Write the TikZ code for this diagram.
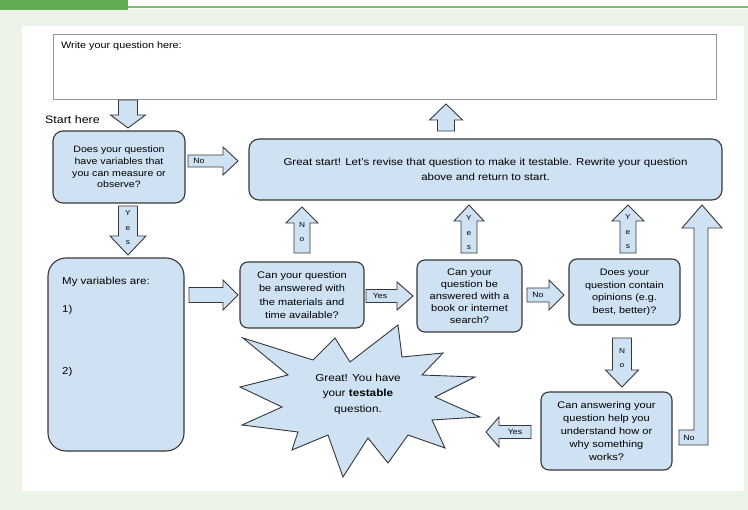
\documentclass[tikz,border=0pt]{standalone}
\usepackage{fontspec}
\setmainfont[FakeStretch=1.15]{Liberation Sans}
\usepackage{xcolor}
\usepackage{tikz}
\usetikzlibrary{positioning,calc}
\definecolor{boxFill}{RGB}{207,226,243}
\definecolor{boxLine}{RGB}{55,55,55}
\definecolor{panelGreen}{RGB}{236,244,233}
\definecolor{barGreen}{RGB}{98,172,84}
\definecolor{lineGreen}{RGB}{122,190,104}
\definecolor{qLine}{RGB}{150,150,150}
\tikzset{
    flowbox/.style={
        draw=boxLine,
        fill=boxFill,
        line width=1.1pt,
        rounded corners=8pt,
        align=center,
        inner sep=0pt,
        font=\fontsize{9.6}{12.5}\selectfont
    },
    qbox/.style={
        draw=qLine,
        fill=white,
        line width=0.8pt,
        inner sep=0pt
    },
    arrshaft/.store in=\arrshaft,
    arrhead/.store in=\arrhead,
    arrlen/.store in=\arrlen,
    arrshaft=7pt, arrhead=15pt, arrlen=15pt,
    barrow/.style={
        draw=boxLine,
        fill=boxFill,
        line width=0.9pt,
        to path={
            ($(\tikztostart)!\arrshaft!90:(\tikztotarget)$)
            -- ($($(\tikztotarget)!\arrlen!(\tikztostart)$)!\arrshaft!90:(\tikztotarget)$)
            -- ($($(\tikztotarget)!\arrlen!(\tikztostart)$)!\arrhead!90:(\tikztotarget)$)
            -- (\tikztotarget)
            -- ($($(\tikztotarget)!\arrlen!(\tikztostart)$)!\arrhead!-90:(\tikztotarget)$)
            -- ($($(\tikztotarget)!\arrlen!(\tikztostart)$)!\arrshaft!-90:(\tikztotarget)$)
            -- ($(\tikztostart)!\arrshaft!-90:(\tikztotarget)$)
            -- cycle
        }
    },
    albl/.style={font=\fontsize{7.6}{8}\selectfont, inner sep=0pt},
    vlbl/.style={font=\fontsize{7.2}{14.5}\selectfont, align=center, inner sep=0pt}
}

\begin{document}
\begin{tikzpicture}[x=1pt, y=-1pt]
    \useasboundingbox (0,0) rectangle (748,510);
    \fill[panelGreen] (0,9) rectangle (748,510);
    \fill[white] (22,26) rectangle (744,491);
    \fill[barGreen] (0,0) rectangle (128,10);
    \draw[lineGreen, line width=1.5pt] (128,7) -- (748,7);

    \node[qbox, minimum width=663pt, minimum height=65pt] (qbox) at (384.5,66.5) {};
    \node[anchor=west, inner sep=0pt, font=\fontsize{9.4}{11}\selectfont] (qtext) at (61,46.5) {Write your question here:};
    \node[anchor=west, inner sep=0pt, font=\fontsize{10.8}{12}\selectfont] (start) at (45,120) {Start here};

    \node[flowbox, minimum width=132pt, minimum height=72pt, rounded corners=10pt,
        font=\fontsize{9.2}{11.7}\selectfont] (q1) at (119,167)
        {Does your question\\have variables that\\you can measure or\\observe?};
    \node[flowbox, minimum width=473pt, minimum height=61pt, rounded corners=10pt,
        font=\fontsize{10}{14.5}\selectfont] (gs) at (485.5,169.5)
        {Great start! Let's revise that question to make it testable. Rewrite your question\\above and return to start.};
    \node[flowbox, minimum width=136pt, minimum height=193pt, rounded corners=18pt] (vars) at (116,354.5) {};
    \node[anchor=west, inner sep=0pt, font=\fontsize{10}{12}\selectfont] (vtitle) at (62,282) {My variables are:};
    \node[anchor=west, inner sep=0pt, font=\fontsize{10}{12}\selectfont] (v1) at (62,310) {1)};
    \node[anchor=west, inner sep=0pt, font=\fontsize{10}{12}\selectfont] (v2) at (62,372) {2)};
    \node[flowbox, minimum width=124pt, minimum height=66pt, font=\fontsize{9.6}{13.3}\selectfont] (mat) at (302,295)
        {Can your question\\be answered with\\the materials and\\time available?};
    \node[flowbox, minimum width=105pt, minimum height=72pt, font=\fontsize{9.6}{11.9}\selectfont] (book) at (469.5,296)
        {Can your\\question be\\answered with a\\book or internet\\search?};
    \node[flowbox, minimum width=111pt, minimum height=66pt, font=\fontsize{9.4}{12.5}\selectfont] (opin) at (624.5,292)
        {Does your\\question contain\\opinions (e.g.\\best, better)?};
    \node[flowbox, minimum width=131pt, minimum height=78pt, font=\fontsize{9.6}{13}\selectfont] (help) at (606.5,431)
        {Can answering your\\question help you\\understand how or\\why something\\works?};

    \coordinate (starC) at (360,400);
    \draw[draw=boxLine, fill=boxFill, line width=0.9pt, shift={(starC)}]
        (-117,-62) -- (-47,-40) -- (-25,-62) -- (-10,-38) -- (38,-75) -- (42,-43)
        -- (83,-47) -- (62,-25) -- (115,-23) -- (75,-3) -- (120,17) -- (72,20)
        -- (85,48) -- (48,35) -- (28,63) -- (8,38) -- (-17,77) -- (-32,35)
        -- (-68,50) -- (-62,32) -- (-118,25) -- (-78,7) -- (-120,-13) -- (-72,-25) -- cycle;
    \node[align=center, inner sep=0pt, font=\fontsize{10.2}{15.5}\selectfont] (great) at (358,394)
        {Great! You have\\your \textbf{testable}\\question.};

    \coordinate (a1) at (128,100);  \coordinate (b1) at (128,128);
    \coordinate (a2) at (188,161);  \coordinate (b2) at (238,161);
    \coordinate (a3) at (446,131);  \coordinate (b3) at (446,104);
    \coordinate (a4) at (128,206);  \coordinate (b4) at (128,255);
    \coordinate (a5) at (189,295);  \coordinate (b5) at (238,295);
    \coordinate (a6) at (302,253);  \coordinate (b6) at (302,207);
    \coordinate (a7) at (366,296);  \coordinate (b7) at (413,296);
    \coordinate (a8) at (469,253);  \coordinate (b8) at (469,205);
    \coordinate (a9) at (527,295);  \coordinate (b9) at (564,295);
    \coordinate (a10) at (628,253); \coordinate (b10) at (628,205);
    \coordinate (a11) at (622,338); \coordinate (b11) at (622,387);
    \coordinate (a12) at (531,432); \coordinate (b12) at (486,432);
    \coordinate (a13) at (679,430);

    \draw[barrow, arrshaft=9.5pt, arrhead=17.5pt, arrlen=13pt] (a1) to (b1);
    \draw[barrow, arrshaft=6pt, arrhead=14pt, arrlen=15pt] (a2) to (b2);
    \draw[barrow, arrshaft=8.5pt, arrhead=16.5pt, arrlen=16pt] (a3) to (b3);
    \draw[barrow, arrshaft=9.5pt, arrhead=18pt, arrlen=19pt] (a4) to (b4);
    \draw[barrow, arrshaft=7.5pt, arrhead=15pt, arrlen=15pt] (a5) to (b5);
    \draw[barrow, arrshaft=8pt, arrhead=16pt, arrlen=16pt] (a6) to (b6);
    \draw[barrow, arrshaft=6.5pt, arrhead=14pt, arrlen=16pt] (a7) to (b7);
    \draw[barrow, arrshaft=8pt, arrhead=15pt, arrlen=16pt] (a8) to (b8);
    \draw[barrow, arrshaft=7pt, arrhead=15pt, arrlen=15pt] (a9) to (b9);
    \draw[barrow, arrshaft=8pt, arrhead=16pt, arrlen=16pt] (a10) to (b10);
    \draw[barrow, arrshaft=9.5pt, arrhead=16.5pt, arrlen=17pt] (a11) to (b11);
    \draw[barrow, arrshaft=6.5pt, arrhead=15pt, arrlen=13pt] (a12) to (b12);
    \draw[draw=boxLine, fill=boxFill, line width=0.9pt]
        (a13) -- ++(15,0) -- ++(0,-202) -- ++(-12,0) -- ++(20,-23) -- ++(20,23)
        -- ++(-14,0) -- ++(0,217) -- ++(-29,0) -- cycle;

    \node[albl] (l2) at ($(a2)+(11,0)$) {No};
    \node[albl] (l7) at ($(a7)+(14,0)$) {Yes};
    \node[albl] (l9) at ($(a9)+(11,0)$) {No};
    \node[albl] (l12) at ($(a12)+(-16,0)$) {Yes};
    \node[albl] (l13) at ($(a13)+(10,8)$) {No};
    \node[vlbl] (l4) at ($(a4)+(0,22)$) {Y\\e\\s};
    \node[vlbl] (l6) at ($(a6)+(0,-21)$) {N\\o};
    \node[vlbl] (l8) at ($(a8)+(0,-20)$) {Y\\e\\s};
    \node[vlbl] (l10) at ($(a10)+(0,-21)$) {Y\\e\\s};
    \node[vlbl] (l11) at ($(a11)+(0,20)$) {N\\o};
\end{tikzpicture}
\end{document}
